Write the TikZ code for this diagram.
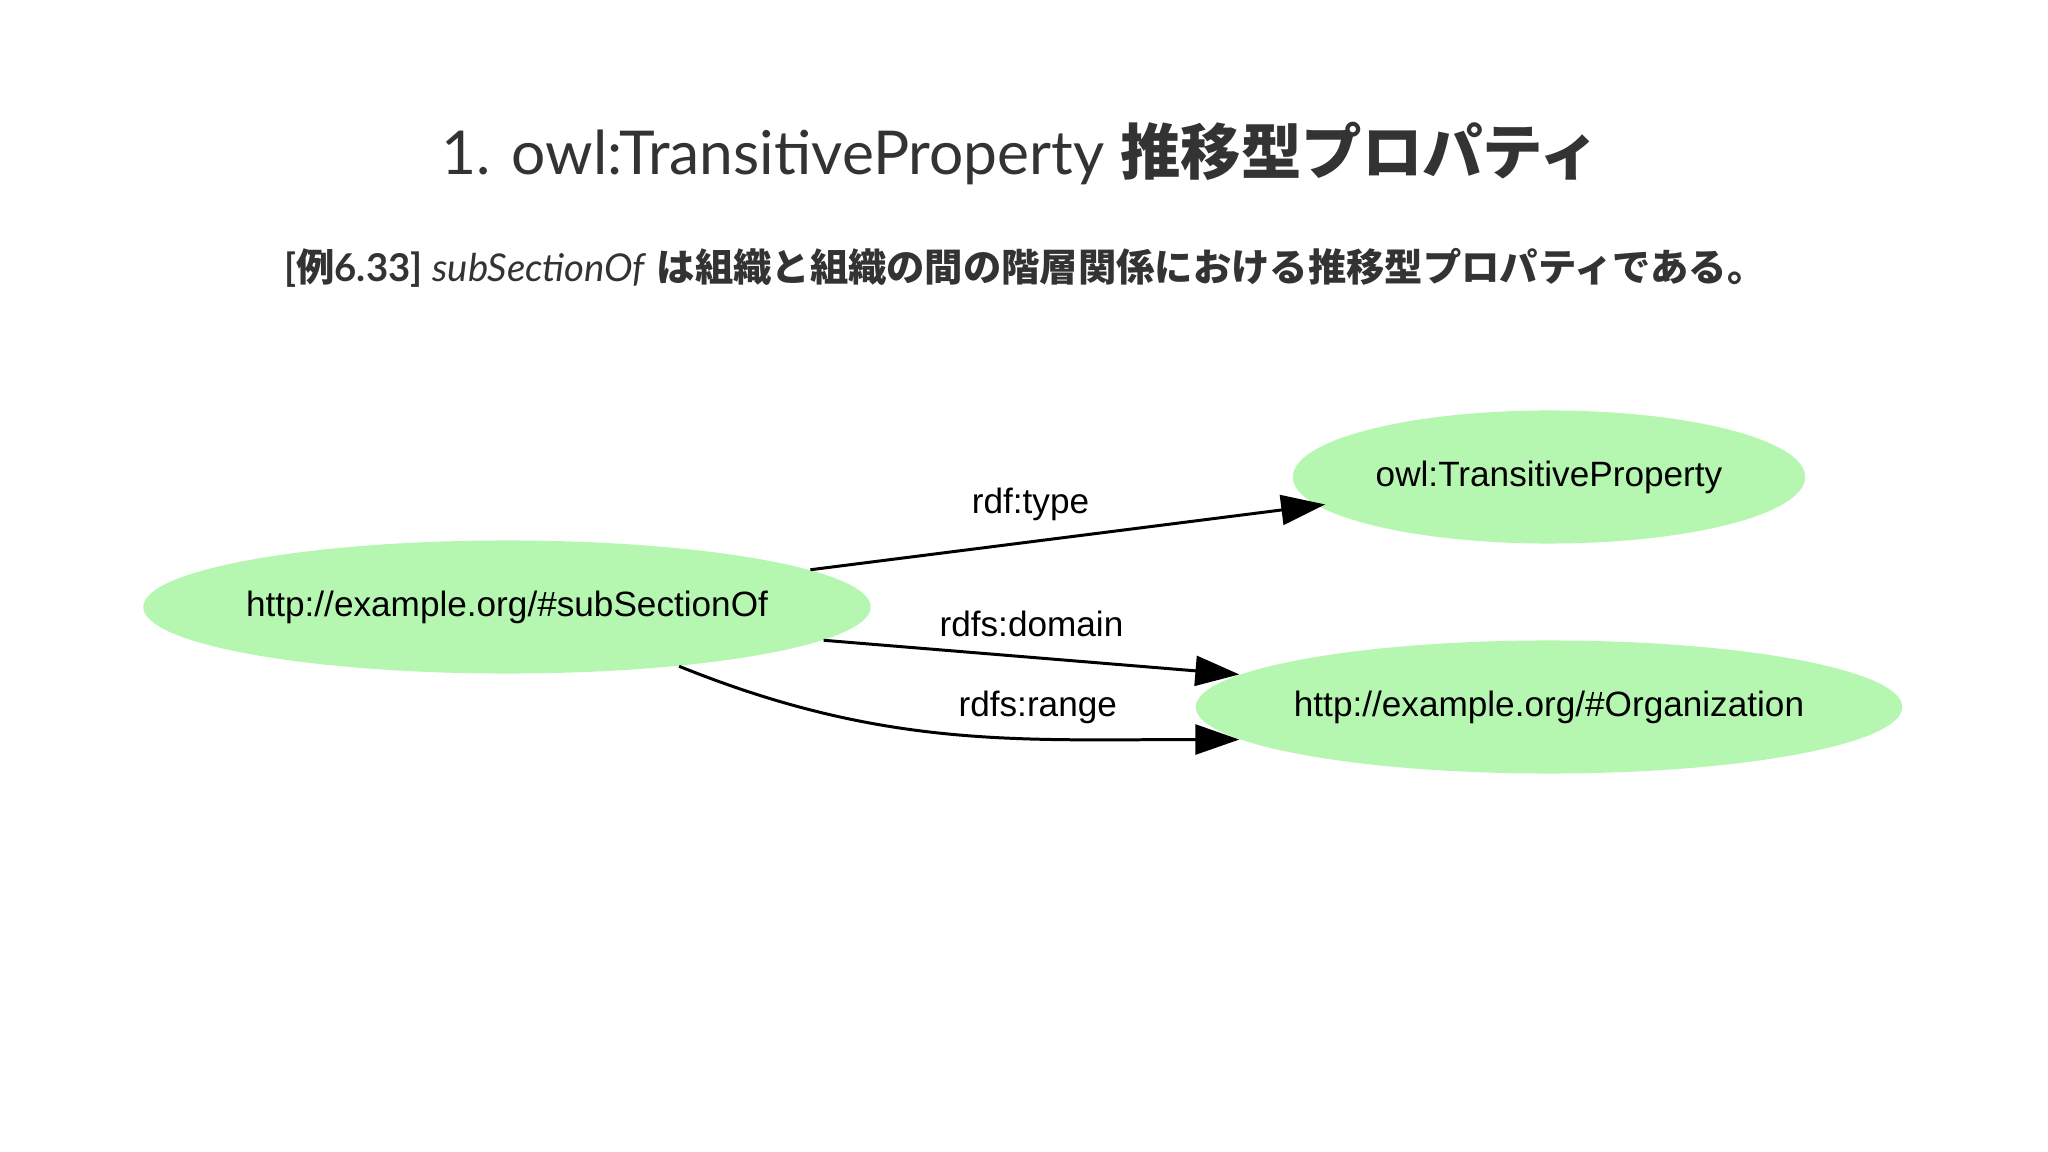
\documentclass[tikz,border=0pt]{standalone}
\usepackage{fontspec}
\setmainfont{Lato}
\newfontfamily\jpfont{Noto Sans CJK JP}
\newfontfamily\gvfont{Liberation Sans}
\usetikzlibrary{shapes.geometric,arrows.meta}
\definecolor{nodegreen}{RGB}{181,247,176}
\definecolor{titlegray}{RGB}{51,51,51}

\begin{document}
\begin{tikzpicture}[x=0.01cm, y=-0.01cm,
    res/.style={ellipse, fill=nodegreen, inner ysep=0pt, inner xsep=-8pt, minimum height=1.33cm,
      font=\gvfont\fontsize{10}{12}\selectfont},
    edge/.style={line width=0.85pt, -{Triangle[length=12.5pt, width=8.5pt]}},
    lbl/.style={font=\gvfont\fontsize{10}{12}\selectfont, inner sep=0pt}]
\useasboundingbox[fill=white] (0,0) rectangle (2048,1152);

% Heading
\node[font=\fontsize{17.2}{20}\selectfont, text=titlegray] (title) at (1021,154)
  {1. owl:TransitiveProperty {\jpfont\bfseries 推移型プロパティ}};
\node[font=\fontsize{10.9}{13}\selectfont, text=titlegray] (caption) at (1025,268)
  {\textbf{[}{\jpfont\bfseries 例}\textbf{6.33]} \textit{subSectionOf} {\jpfont\bfseries は組織と組織の間の階層関係における推移型プロパティである。}};

% Nodes
\node[res, minimum width=7.27cm] (sub) at (507,607) {http://example.org/\#subSectionOf};
\node[res, minimum width=5.12cm] (tp) at (1549,477) {owl:TransitiveProperty};
\node[res, minimum width=7.06cm] (org) at (1549,707) {http://example.org/\#Organization};

% Edges
\draw[edge, shorten >=-2.5pt] (sub.7) -- node[lbl, pos=.435, yshift=10.5pt] (ltype) {rdf:type} (tp.187);
\draw[edge] (sub.-6) -- node[lbl, pos=.5, yshift=9.4pt] (ldomain) {rdfs:domain} (org.174);
\draw[edge] (sub.-19) to[out=-22, in=180] node[lbl, pos=.66, yshift=9pt] (lrange) {rdfs:range} (org.186);
\end{tikzpicture}
\end{document}
